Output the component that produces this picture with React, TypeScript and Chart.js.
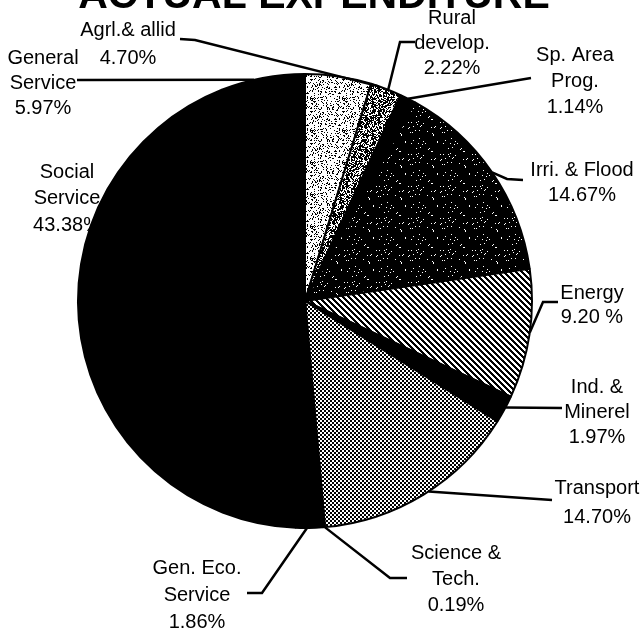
import React, { useEffect, useRef } from "react";
import { Chart, registerables } from "chart.js";

Chart.register(...registerables);

// ---- data ----
const titleText = "ACTUAL EXPENDITURE";
const categories = [
  "Agrl.& allid",
  "Rural develop.",
  "Sp. Area Prog.",
  "Irri. & Flood",
  "Energy",
  "Ind. & Minerel",
  "Transport",
  "Science & Tech.",
  "Gen. Eco. Service",
  "Social Service",
  "General Service",
];
const shares = [4.7, 2.22, 1.14, 14.67, 9.2, 1.97, 14.7, 0.19, 1.86, 43.38, 5.97];
const labelLines = [
  ["Agrl.& allid", "4.70%"],
  ["Rural", "develop.", "2.22%"],
  ["Sp. Area", "Prog.", "1.14%"],
  ["Irri. & Flood", "14.67%"],
  ["Energy", "9.20 %"],
  ["Ind. &", "Minerel", "1.97%"],
  ["Transport", "14.70%"],
  ["Science &", "Tech.", "0.19%"],
  ["Gen. Eco.", "Service", "1.86%"],
  ["Social", "Service", "43.38%"],
  ["General", "Service", "5.97%"],
];

// ---- styles / layout ----
const fillKinds = ["light", "medium", "black", "dark", "hatch", "black", "check", "black", "black", "black", "black"];
// label block: first-line centre (x, y) and line step
const labelPos: [number, number, number][] = [
  [128, 30, 28],
  [452, 18, 25],
  [575, 55, 26],
  [582, 170, 25],
  [592, 293, 24],
  [597, 387, 25],
  [597, 488, 29],
  [456, 553, 26],
  [197, 568, 27],
  [67, 172, 26.5],
  [43, 58, 25],
];
// leader lines: label-side points, then a point on the rim given by angle (deg, clockwise from top)
const leaders: { pts: [number, number][]; rim: number | null }[] = [
  { pts: [[180, 39], [195, 40]], rim: 19 },
  { pts: [[415, 42], [400, 42]], rim: 21.5 },
  { pts: [[531, 78]], rim: 27 },
  { pts: [[523, 180], [507, 179]], rim: 55.5 },
  { pts: [[558, 302], [543, 302]], rim: 98 },
  { pts: [[562, 408]], rim: 118 },
  { pts: [[552, 500]], rim: 147 },
  { pts: [[407, 578], [390, 578]], rim: 175 },
  { pts: [[247, 593], [262, 593]], rim: 179.5 },
  { pts: [], rim: null },
  { pts: [[77, 80]], rim: -13 },
];

const FONT = "'Liberation Sans', Arial, Helvetica, sans-serif";

function hash(x: number, y: number) {
  let h = (Math.imul(x, 374761393) + Math.imul(y, 668265263)) | 0;
  h = Math.imul(h ^ (h >>> 13), 1274126177);
  h = h ^ (h >>> 16);
  return (h >>> 0) % 100;
}

function makeTile(w: number, h: number, white: (x: number, y: number) => boolean) {
  const c = document.createElement("canvas");
  c.width = w;
  c.height = h;
  const g = c.getContext("2d")!;
  const img = g.createImageData(w, h);
  for (let y = 0; y < h; y++) {
    for (let x = 0; x < w; x++) {
      const v = white(x, y) ? 255 : 0;
      const i = (y * w + x) * 4;
      img.data[i] = v;
      img.data[i + 1] = v;
      img.data[i + 2] = v;
      img.data[i + 3] = 255;
    }
  }
  g.putImageData(img, 0, 0);
  return g.createPattern(c, "repeat")!;
}

function makeFill(kind: string): any {
  switch (kind) {
    case "light":
      return makeTile(32, 32, (x, y) => hash(x, y) < 78);
    case "medium":
      return makeTile(32, 32, (x, y) => hash(x + 50, y + 7) < 42);
    case "dark":
      return makeTile(32, 32, (x, y) => hash(x + 11, y + 91) < 4);
    case "hatch":
      return makeTile(6, 6, (x, y) => (((x - y) % 6) + 6) % 6 < 3);
    case "check":
      return makeTile(4, 4, (x, y) => (Math.floor(x / 2) + Math.floor(y / 2)) % 2 === 0);
    default:
      return "#000000";
  }
}

const annotPlugin = {
  id: "annot",
  beforeDatasetsDraw(chart: any) {
    const ctx = chart.ctx as CanvasRenderingContext2D;
    ctx.save();
    ctx.fillStyle = "#000";
    ctx.textAlign = "center";
    ctx.textBaseline = "alphabetic";
    ctx.font = `bold 41px ${FONT}`;
    ctx.fillText(titleText, 314, 8);
    ctx.font = `20px ${FONT}`;
    ctx.textBaseline = "middle";
    labelLines.forEach((lines, i) => {
      const [x, y, step] = labelPos[i];
      lines.forEach((t, k) => ctx.fillText(t, x, y + k * step));
    });
    ctx.restore();
  },
  afterDatasetsDraw(chart: any) {
    const ctx = chart.ctx as CanvasRenderingContext2D;
    const arc = chart.getDatasetMeta(0).data[0] as any;
    const cx = arc.x;
    const cy = arc.y;
    const r = arc.outerRadius;
    ctx.save();
    ctx.strokeStyle = "#000";
    ctx.lineWidth = 2.5;
    ctx.lineJoin = "miter";
    leaders.forEach((ld) => {
      if (ld.rim === null) return;
      const a = (ld.rim * Math.PI) / 180;
      const pts = [...ld.pts, [cx + r * Math.sin(a), cy - r * Math.cos(a)]];
      ctx.beginPath();
      pts.forEach((p, k) => (k === 0 ? ctx.moveTo(p[0], p[1]) : ctx.lineTo(p[0], p[1])));
      ctx.stroke();
    });
    ctx.restore();
  },
};

export default function App() {
  const ref = useRef<HTMLCanvasElement>(null);
  useEffect(() => {
    const canvas = ref.current!;
    const fills = fillKinds.map(makeFill);
    const chart = new Chart(canvas, {
      type: "pie",
      data: {
        labels: categories,
        datasets: [
          {
            data: shares,
            backgroundColor: fills,
            borderColor: "#000000",
            borderWidth: 2,
            radius: 227,
          } as any,
        ],
      },
      options: {
        responsive: false,
        animation: false,
        layout: { padding: { left: 78, right: 110, top: 74, bottom: 102 } },
        plugins: {
          legend: { display: false },
          tooltip: { enabled: false },
          title: { display: false },
        },
      },
      plugins: [annotPlugin],
    });
    return () => chart.destroy();
  }, []);
  return (
    <div style={{ position: "absolute", left: 0, top: 0, width: 642, height: 630, background: "#fff" }}>
      <canvas ref={ref} width={642} height={630} style={{ display: "block" }} />
    </div>
  );
}
